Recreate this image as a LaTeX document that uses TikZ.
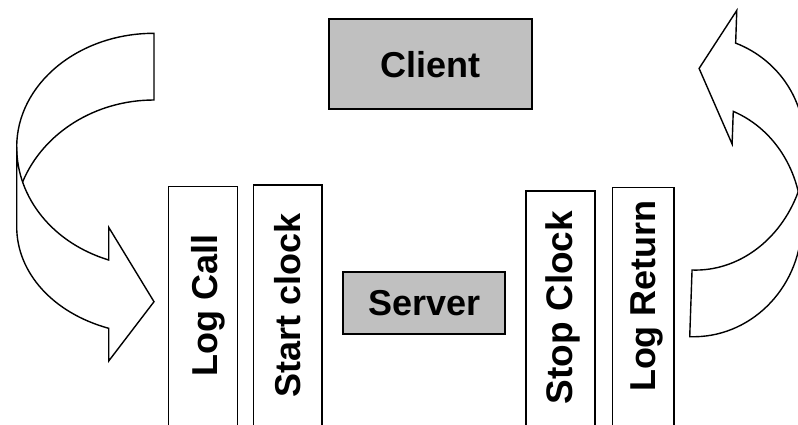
\documentclass[tikz,border=0pt]{standalone}
\usepackage{fontspec}
\setmainfont{Liberation Sans}
\definecolor{boxgray}{HTML}{C0C0C0}
% curved band arrow: back band (tail) and front band (with head)
\newcommand\bandback{(154,100) .. controls (95.7,100) and (43.4,132.5) .. (22.7,181.7)
      -- (18.5,190) -- (16.7,190) -- (16.7,147)
      .. controls (16.7,84.2) and (78.2,33.3) .. (154,33.3) -- cycle}
\newcommand\bandfront{(16.7,147) -- (16.7,226.7)
      .. controls (16.7,272.8) and (53.2,313.1) .. (108.7,328.3)
      -- (108.7,361) -- (154,301.7) -- (108.7,227.3) -- (108.7,260)
      .. controls (53.2,243.1) and (16.7,198.2) .. (16.7,147) -- cycle}
\begin{document}
\begin{tikzpicture}[x=1pt,y=-1pt,
  bandline/.style={draw=black, fill=white, line width=1.4pt, line join=miter},
  boxtext/.style={font=\fontsize{36}{40}\selectfont\bfseries, text height=25.8pt, text depth=0pt, inner sep=0pt},
  graybox/.style={draw=black, line width=1.8pt, fill=boxgray},
  stripbox/.style={draw=black, line width=1.5pt, fill=white, inner sep=0pt, anchor=north, minimum height=300pt},
  vlabel/.style={boxtext, rotate=90}
]
\useasboundingbox (0,0) rectangle (798,424);
\clip (0,0) rectangle (798,424);

% loop arrow on the left (call going in)
\path[bandline] \bandback;
\path[bandline] \bandfront;

% loop arrow on the right (return going out): the same band turned round
\begin{scope}[rotate around={-2:(691,300)}, xshift=845pt, yshift=-370pt, scale=-1,
              xshift=154pt, xscale=0.787, xshift=-154pt]
  \path[bandline] \bandback;
  \path[bandline] \bandfront;
\end{scope}

% client and server
\node[graybox, boxtext, minimum width=202.4pt, minimum height=90pt] (client) at (430.5,64.3) {Client};
\node[graybox, boxtext, minimum width=161.7pt, minimum height=62.6pt] (server) at (424.2,303) {Server};

% interceptor strips
\node[stripbox, minimum width=69pt] (logcallbox) at (202.8,185.7) {};
\node[vlabel] (logcall) at (204.2,305.8) {Log Call};
\node[stripbox, minimum width=68.7pt] (startclockbox) at (287.7,184.3) {};
\node[vlabel] (startclock) at (287.8,305.7) {Start clock};
\node[stripbox, minimum width=69pt] (stopclockbox) at (560.5,190) {};
\node[vlabel, font=\fontsize{37}{41}\selectfont\bfseries, text height=26.5pt] (stopclock) at (559,307.5) {Stop Clock};
\node[stripbox, minimum width=61.3pt] (logreturnbox) at (643.3,186.7) {};
\node[vlabel] (logreturn) at (642.5,296) {Log Return};
\end{tikzpicture}
\end{document}
